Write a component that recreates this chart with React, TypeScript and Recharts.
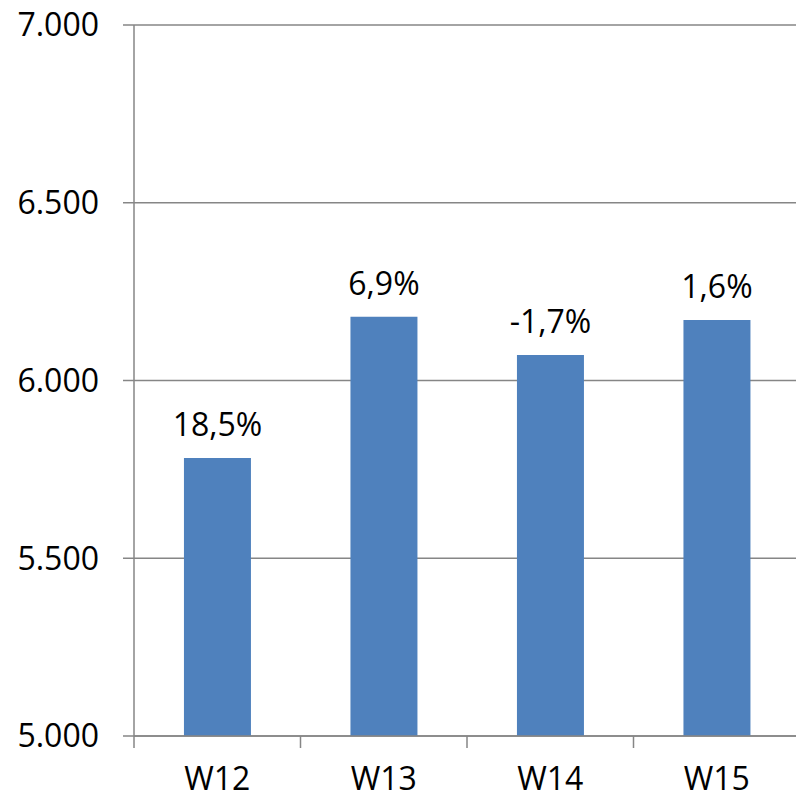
// Weekly totals W12–W15 with week-over-week change labels above each bar.

import { BarChart, Bar, XAxis, YAxis, CartesianGrid, LabelList } from 'recharts'

const weeks = ['W12', 'W13', 'W14', 'W15']
const totals = [5782, 6179, 6072, 6170]
const changes = ['18,5%', '6,9%', '-1,7%', '1,6%']
const yTicks = [5000, 5500, 6000, 6500, 7000]

const data = weeks.map((week, i) => ({ week, total: totals[i], change: changes[i] }))

const AXIS = '#868686'
const FONT = '"Open Sans", sans-serif'
const SIZE = 32

// 5000 -> "5.000"
const fmt = (v: number) => String(v).replace(/\B(?=(\d{3})+$)/g, '.')

// Category label plus the boundary tick marks Excel draws between categories.
function WeekTick(props: any) {
  const { x, y, payload, index } = props
  const half = 666 / weeks.length / 2
  return (
    <g>
      <line x1={x - half} y1={y - 8} x2={x - half} y2={y + 4} stroke={AXIS} strokeWidth={1.5} />
      {index === weeks.length - 1 && (
        <line x1={x + half} y1={y - 8} x2={x + half} y2={y + 4} stroke={AXIS} strokeWidth={1.5} />
      )}
      <text x={x} y={y + 46} textAnchor="middle" fontSize={SIZE} fontFamily={FONT} fill="#000">
        {payload.value}
      </text>
    </g>
  )
}

export default function App() {
  return (
    <div style={{ position: 'absolute', left: 0, top: 0, width: 796, height: 798, overflow: 'hidden', background: '#fff' }}>
      <BarChart
        width={800}
        height={798}
        data={data}
        margin={{ top: 25, right: 0, left: 0, bottom: 0 }}
        barCategoryGap="30%"
      >
        <CartesianGrid vertical={false} stroke={AXIS} strokeWidth={1.5} />
        <XAxis
          dataKey="week"
          height={62}
          axisLine={{ stroke: AXIS, strokeWidth: 1.5 }}
          tickLine={false}
          tick={<WeekTick />}
          interval={0}
        />
        <YAxis
          width={134}
          domain={[5000, 7000]}
          ticks={yTicks}
          tickFormatter={fmt}
          axisLine={{ stroke: AXIS, strokeWidth: 1.5 }}
          tickLine={{ stroke: AXIS, strokeWidth: 1.5 }}
          tickSize={11}
          tickMargin={24}
          tick={{ fontSize: SIZE, fontFamily: FONT, fill: '#000' }}
          allowDataOverflow
        />
        <Bar dataKey="total" fill="#4f81bd" isAnimationActive={false}>
          <LabelList
            dataKey="change"
            position="top"
            offset={22}
            style={{ fontSize: SIZE, fontFamily: FONT, fill: '#000' }}
          />
        </Bar>
      </BarChart>
    </div>
  )
}
